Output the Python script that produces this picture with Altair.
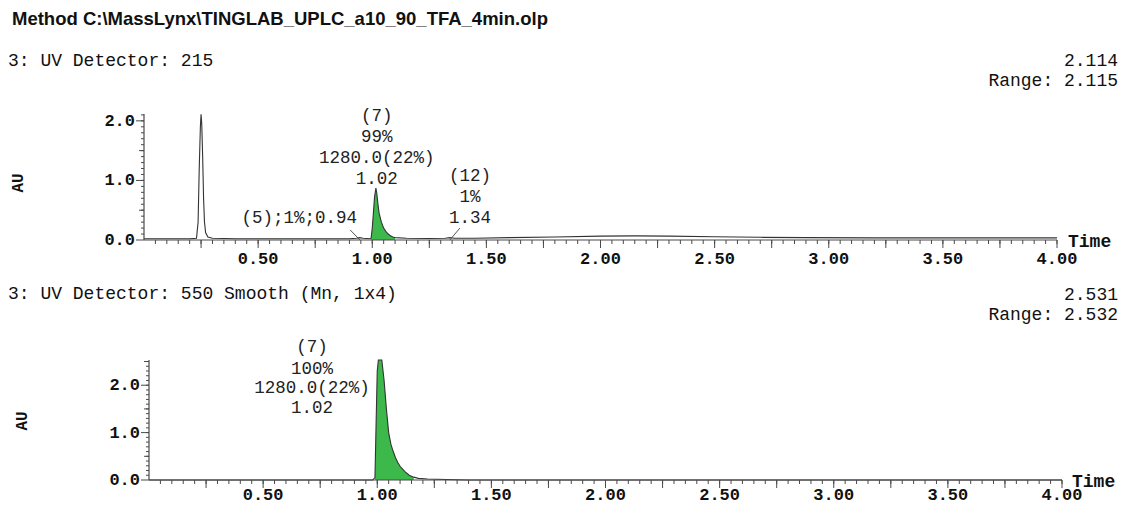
import altair as alt
import pandas as pd

# ---------------- data ----------------
method_title = "Method C:\\MassLynx\\TINGLAB_UPLC_a10_90_TFA_4min.olp"
top_header = "3: UV Detector: 215"
top_max = "2.114"
top_range = "Range: 2.115"
bot_header = "3: UV Detector: 550 Smooth (Mn, 1x4)"
bot_max = "2.531"
bot_range = "Range: 2.532"

# UV 215 trace
top_time = [0.00, 0.10, 0.20, 0.23, 0.237, 0.242, 0.247, 0.250, 0.253, 0.257, 0.261, 0.265,
            0.270, 0.280, 0.300, 0.400, 0.600, 0.800, 0.900, 0.930, 0.945, 0.960, 0.990,
            0.995, 1.000, 1.005, 1.010, 1.016, 1.020, 1.025, 1.030, 1.040, 1.050, 1.060,
            1.070, 1.080, 1.090, 1.100, 1.150, 1.250, 1.320, 1.340, 1.360, 1.450, 1.600,
            1.800, 2.000, 2.150, 2.300, 2.500, 2.700, 2.900, 3.200, 3.600, 4.000]
top_au = [0.02, 0.02, 0.02, 0.03, 0.30, 1.20, 1.90, 2.11, 1.95, 1.40, 0.70, 0.30,
          0.12, 0.05, 0.03, 0.02, 0.02, 0.02, 0.02, 0.03, 0.04, 0.03, 0.02,
          0.03, 0.20, 0.45, 0.72, 0.87, 0.78, 0.60, 0.45, 0.30, 0.20, 0.14,
          0.10, 0.07, 0.05, 0.04, 0.03, 0.025, 0.03, 0.04, 0.03, 0.03, 0.04,
          0.05, 0.065, 0.07, 0.065, 0.055, 0.045, 0.04, 0.035, 0.035, 0.035]

# UV 550 smoothed trace
bot_time = [0.00, 0.50, 0.98, 0.990, 0.995, 1.000, 1.005, 1.020, 1.030, 1.040, 1.050, 1.060,
            1.070, 1.080, 1.090, 1.100, 1.120, 1.140, 1.160, 1.180, 1.220, 1.300, 1.400,
            2.000, 3.000, 4.000]
bot_au = [0.00, 0.00, 0.00, 0.05, 1.20, 2.30, 2.532, 2.532, 2.10, 1.50, 1.00, 0.75,
          0.60, 0.47, 0.37, 0.29, 0.18, 0.10, 0.06, 0.035, 0.02, 0.01, 0.00,
          0.00, 0.00, 0.00]

# integrated peak windows (green)
top_fill = (0.995, 1.10)
bot_fill = (0.99, 1.17)

# peak labels
top_ann_text = ["(7)", "99%", "1280.0(22%)", "1.02", "(12)", "1%", "1.34"]
top_ann_time = [1.02, 1.02, 1.02, 1.02, 1.428, 1.428, 1.428]
top_ann_au = [2.08, 1.73, 1.38, 1.02, 1.07, 0.72, 0.37]
side_text = ["(5);1%;0.94"]
side_time = [0.933]
side_au = [0.37]
lead_t = [0.903, 1.384]
lead_au = [0.17, 0.20]
lead_t2 = [0.946, 1.340]
lead_au2 = [0.0, 0.0]

bot_ann_text = ["(7)", "100%", "1280.0(22%)", "1.02"]
bot_ann_time = [0.714, 0.714, 0.714, 0.714]
bot_ann_au = [2.81, 2.35, 1.94, 1.52]

# axis ticks and labels
x_label_values = [0.5, 1.0, 1.5, 2.0, 2.5, 3.0, 3.5, 4.0]
x_label_text = ["0.50", "1.00", "1.50", "2.00", "2.50", "3.00", "3.50", "4.00"]
x_major_ticks = [0.25, 0.5, 0.75, 1.0, 1.25, 1.5, 1.75, 2.0, 2.25, 2.5, 2.75, 3.0, 3.25,
                 3.5, 3.75, 4.0]
x_minor_ticks = [round(0.05 * i, 2) for i in range(1, 81)]
y_label_values = [0.0, 1.0, 2.0]
y_label_text = ["0.0", "1.0", "2.0"]
y1_half_ticks = [0.5, 1.5]
y2_half_ticks = [0.5, 1.5, 2.5]
y1_minor_ticks = [round(0.1 * i, 1) for i in range(1, 22)]
y2_minor_ticks = [round(0.1 * i, 1) for i in range(1, 26)]
x_extent = [0.0, 4.0]

# ---------------- style ----------------
MONO = "Liberation Mono"
SANS = "Liberation Sans"
GREEN = "#3db84a"
LINE = "#333333"
AXC = "#4a4a4a"
W1, H1 = 913, 126
W2, H2 = 918, 120


def text_layer(txt, px, py, align="left", font=MONO, size=18, weight="normal", angle=0):
    return alt.Chart(pd.DataFrame({"label": [txt]})).mark_text(
        align=align, baseline="middle", font=font, fontSize=size, fontWeight=weight,
        color="#111", angle=angle
    ).encode(x=alt.value(px), y=alt.value(py), text="label:N")


def x_tick_layer(vals, xs, h, size):
    return alt.Chart(pd.DataFrame({"v": vals})).mark_rule(color=AXC, strokeWidth=1).encode(
        x=alt.X("v:Q", scale=xs, axis=None), y=alt.value(h), y2=alt.value(h + size))


def y_tick_layer(vals, ys, x0, size):
    return alt.Chart(pd.DataFrame({"v": vals})).mark_rule(color=AXC, strokeWidth=1).encode(
        y=alt.Y("v:Q", scale=ys, axis=None), x=alt.value(x0), x2=alt.value(x0 - size))


def axis_layers(xs, ys, h, x0, ymax, yminor, yhalf, label_dy):
    xdom = alt.Chart(pd.DataFrame({"a": [x_extent[0]], "b": [x_extent[1]], "y": [0.0]})).mark_rule(
        color=AXC, strokeWidth=1.2).encode(
        x=alt.X("a:Q", scale=xs, axis=None), x2="b:Q", y=alt.Y("y:Q", scale=ys, axis=None))
    ydom = alt.Chart(pd.DataFrame({"a": [0.0], "b": [ymax], "x": [0.0]})).mark_rule(
        color=AXC, strokeWidth=1.2).encode(
        y=alt.Y("a:Q", scale=ys, axis=None), y2="b:Q", x=alt.X("x:Q", scale=xs, axis=None))
    xlab = alt.Chart(pd.DataFrame({"v": x_label_values, "s": x_label_text})).mark_text(
        font=MONO, fontSize=17, fontWeight="bold", color="#111", align="center",
        baseline="middle").encode(
        x=alt.X("v:Q", scale=xs, axis=None), y=alt.value(h + label_dy), text="s:N")
    ylab = alt.Chart(pd.DataFrame({"v": y_label_values, "s": y_label_text})).mark_text(
        font=MONO, fontSize=17, fontWeight="bold", color="#111", align="right",
        baseline="middle").encode(
        y=alt.Y("v:Q", scale=ys, axis=None), x=alt.value(x0 - 9), text="s:N")
    return [
        xdom, ydom, xlab, ylab,
        x_tick_layer(x_minor_ticks, xs, h, 4),
        x_tick_layer(x_major_ticks, xs, h, 8),
        y_tick_layer(yminor, ys, x0, 3),
        y_tick_layer(yhalf, ys, x0, 5),
        y_tick_layer(y_label_values, ys, x0, 8),
    ]


def panel(time, au, fill, w, h, ymax, yminor, yhalf, xrange, x0, label_dy, ann, extra, texts):
    df = pd.DataFrame({"t": time, "au": au})
    xs = alt.Scale(domain=[0, 4.0], nice=False, zero=False, range=xrange)
    ys = alt.Scale(domain=[0, ymax], nice=False)
    area = alt.Chart(df).transform_filter(
        f"datum.t >= {fill[0]} && datum.t <= {fill[1]}"
    ).mark_area(color=GREEN, opacity=1).encode(
        x=alt.X("t:Q", scale=xs, axis=None), y=alt.Y("au:Q", scale=ys, axis=None))
    line = alt.Chart(df).mark_line(color=LINE, strokeWidth=1.1).encode(
        x=alt.X("t:Q", scale=xs, axis=None), y=alt.Y("au:Q", scale=ys, axis=None))
    adf = pd.DataFrame({"t": ann[1], "au": ann[2], "label": ann[0]})
    ann_layer = alt.Chart(adf).mark_text(
        font=MONO, fontSize=17.5, color="#222", align="center", baseline="middle"
    ).encode(x=alt.X("t:Q", scale=xs, axis=None), y=alt.Y("au:Q", scale=ys, axis=None),
             text="label:N")
    layers = ([area, line, ann_layer]
              + axis_layers(xs, ys, h, x0, ymax, yminor, yhalf, label_dy)
              + [e(xs, ys) for e in extra] + texts)
    return alt.layer(*layers).properties(width=w, height=h)


def side_layer(xs, ys):
    df = pd.DataFrame({"t": side_time, "au": side_au, "label": side_text})
    return alt.Chart(df).mark_text(font=MONO, fontSize=17.5, color="#222", align="right",
                                   baseline="middle").encode(
        x=alt.X("t:Q", scale=xs, axis=None), y=alt.Y("au:Q", scale=ys, axis=None),
        text="label:N")


def lead_layer(xs, ys):
    df = pd.DataFrame({"t": lead_t, "au": lead_au, "t2": lead_t2, "au2": lead_au2})
    return alt.Chart(df).mark_rule(color="#555", strokeWidth=1).encode(
        x=alt.X("t:Q", scale=xs, axis=None), y=alt.Y("au:Q", scale=ys, axis=None),
        x2="t2:Q", y2="au2:Q")


top_texts = [
    text_layer(method_title, -132, -95, font=SANS, size=18.5, weight="bold"),
    text_layer(top_header, -136, -53),
    text_layer(top_max, 974, -53, align="right"),
    text_layer(top_range, 974, -33, align="right"),
    text_layer("Time", W1 + 11, H1 + 2, weight="bold"),
    text_layer("AU", -126, H1 / 2 + 6, weight="bold", size=16, angle=270, align="center"),
]
bot_texts = [
    text_layer(bot_header, -136, -66),
    text_layer(bot_max, 974, -65, align="right"),
    text_layer(bot_range, 974, -45, align="right"),
    text_layer("Time", W2 + 10, H2 + 2, weight="bold"),
    text_layer("AU", -122, H2 / 2 + 1, weight="bold", size=16, angle=270, align="center"),
]

top = panel(top_time, top_au, top_fill, W1, H1, 2.115, y1_minor_ticks, y1_half_ticks,
            [0, W1], 0, 19, (top_ann_text, top_ann_time, top_ann_au),
            [side_layer, lead_layer], top_texts)
bottom = panel(bot_time, bot_au, bot_fill, W2, H2, 2.532, y2_minor_ticks, y2_half_ticks,
               [5, W2], 5, 15, (bot_ann_text, bot_ann_time, bot_ann_au), [], bot_texts)

chart = alt.vconcat(top, bottom, spacing=18).properties(
    padding={"left": 0, "top": 2, "right": 0, "bottom": 3}
).configure(background="white").configure_view(stroke=None)

chart.save("out.html", embed_options={"renderer": "svg", "actions": False})
